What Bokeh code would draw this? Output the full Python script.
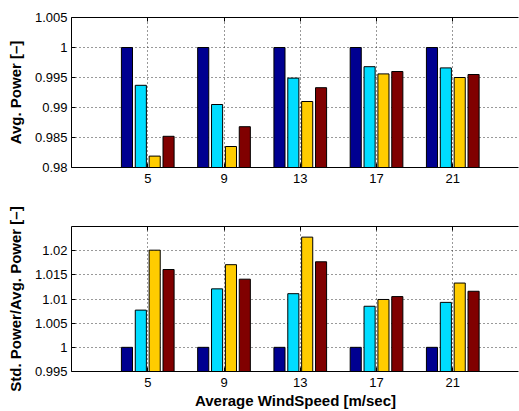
from bokeh.plotting import figure
from bokeh.layouts import column
from bokeh.models import ColumnDataSource, LinearAxis, FixedTicker, Range1d
from bokeh.transform import dodge
from bokeh.embed import file_html
from bokeh.resources import INLINE

# Wind speed bins (m/s)
wind_speed = [5, 9, 13, 17, 21]

# Normalised average power for the four cases
avg_case1 = [1.0, 1.0, 1.0, 1.0, 1.0]
avg_case2 = [0.9937, 0.9905, 0.9949, 0.9968, 0.9966]
avg_case3 = [0.9819, 0.9835, 0.9910, 0.9956, 0.9950]
avg_case4 = [0.9852, 0.9868, 0.9933, 0.9960, 0.9955]

# Normalised std/avg power for the four cases
std_case1 = [1.0, 1.0, 1.0, 1.0, 1.0]
std_case2 = [1.0077, 1.0121, 1.0111, 1.0085, 1.0093]
std_case3 = [1.0201, 1.0171, 1.0228, 1.0099, 1.0133]
std_case4 = [1.0161, 1.0141, 1.0177, 1.0105, 1.0116]

avg_ticks = [0.98, 0.985, 0.99, 0.995, 1.0, 1.005]
std_ticks = [0.995, 1.0, 1.005, 1.01, 1.015, 1.02]

colors = ["#000090", "#00DDFF", "#FFCC00", "#800000"]
FONT = "Liberation Sans"
SLOT = 4 * 4 / 5.5 / 4          # width of one bar slot in x units
BAR_W = 0.8 * SLOT


def make_panel(series, yr, yticks, ylabel, xlabel, height, top, bottom):
    src = ColumnDataSource(dict(x=wind_speed, s0=series[0], s1=series[1],
                                s2=series[2], s3=series[3]))
    p = figure(width=519, height=height, output_backend="svg",
               toolbar_location=None, tools="", x_range=Range1d(1, 24.5),
               y_range=Range1d(*yr), x_axis_location=None,
               y_axis_location=None, min_border_left=71,
               min_border_right=0, min_border_top=top,
               min_border_bottom=bottom)
    p.outline_line_color = None
    p.background_fill_color = "white"
    p.border_fill_color = "white"

    for i, col in enumerate(["s0", "s1", "s2", "s3"]):
        p.vbar(x=dodge("x", (i - 1.5) * SLOT, range=p.x_range), top=col,
               bottom=yr[0], width=BAR_W, source=src, fill_color=colors[i],
               line_color="black", line_width=1)

    xt = FixedTicker(ticks=wind_speed)
    yt = FixedTicker(ticks=yticks)

    xa = LinearAxis(ticker=xt, axis_label=xlabel)
    ya = LinearAxis(ticker=yt, axis_label=ylabel)
    top_ax = LinearAxis(ticker=xt)
    for ax in (xa, ya, top_ax):
        ax.major_tick_in = 4
        ax.major_tick_out = 0
        ax.minor_tick_line_color = None
        ax.axis_line_color = "black"
        ax.major_tick_line_color = "black"
        ax.major_label_text_font = FONT
        ax.major_label_text_font_size = "13px"
        ax.major_label_text_color = "black"
        ax.axis_label_text_font = FONT
        ax.axis_label_text_font_style = "bold"
        ax.axis_label_text_font_size = "15px"
        ax.axis_label_text_color = "black"
    xa.major_label_standoff = 6
    xa.axis_label_standoff = 2
    ya.major_label_standoff = 4
    ya.axis_label_standoff = 8
    # top border of the box: ticks only, no labels
    top_ax.major_label_text_font_size = "0px"
    top_ax.major_label_text_color = None
    top_ax.major_label_standoff = 0
    p.add_layout(xa, "below")
    p.add_layout(ya, "left")
    p.add_layout(top_ax, "above")

    # open right side of the box
    right_ax = LinearAxis(ticker=FixedTicker(ticks=[]), axis_line_color="white",
                          axis_line_width=3, major_tick_line_color=None,
                          minor_tick_line_color=None,
                          major_label_text_font_size="0px",
                          major_label_standoff=0)
    p.add_layout(right_ax, "right")

    p.xgrid.ticker = xt
    p.ygrid.ticker = yt
    for g in (p.xgrid, p.ygrid):
        g.grid_line_color = "#333333"
        g.grid_line_dash = "1 3"
        g.grid_line_width = 1
    return p


p1 = make_panel([avg_case1, avg_case2, avg_case3, avg_case4], (0.98, 1.005),
                avg_ticks, "Avg. Power [\u2013]", None, 200, 17, 33)
p2 = make_panel([std_case1, std_case2, std_case3, std_case4], (0.995, 1.025),
                std_ticks, "Std. Power/Avg. Power [\u2013]",
                "Average WindSpeed [m/sec]", 211, 26, 35)

layout = column(p1, p2, spacing=0)
open("out.html", "w").write(file_html(layout, INLINE))
